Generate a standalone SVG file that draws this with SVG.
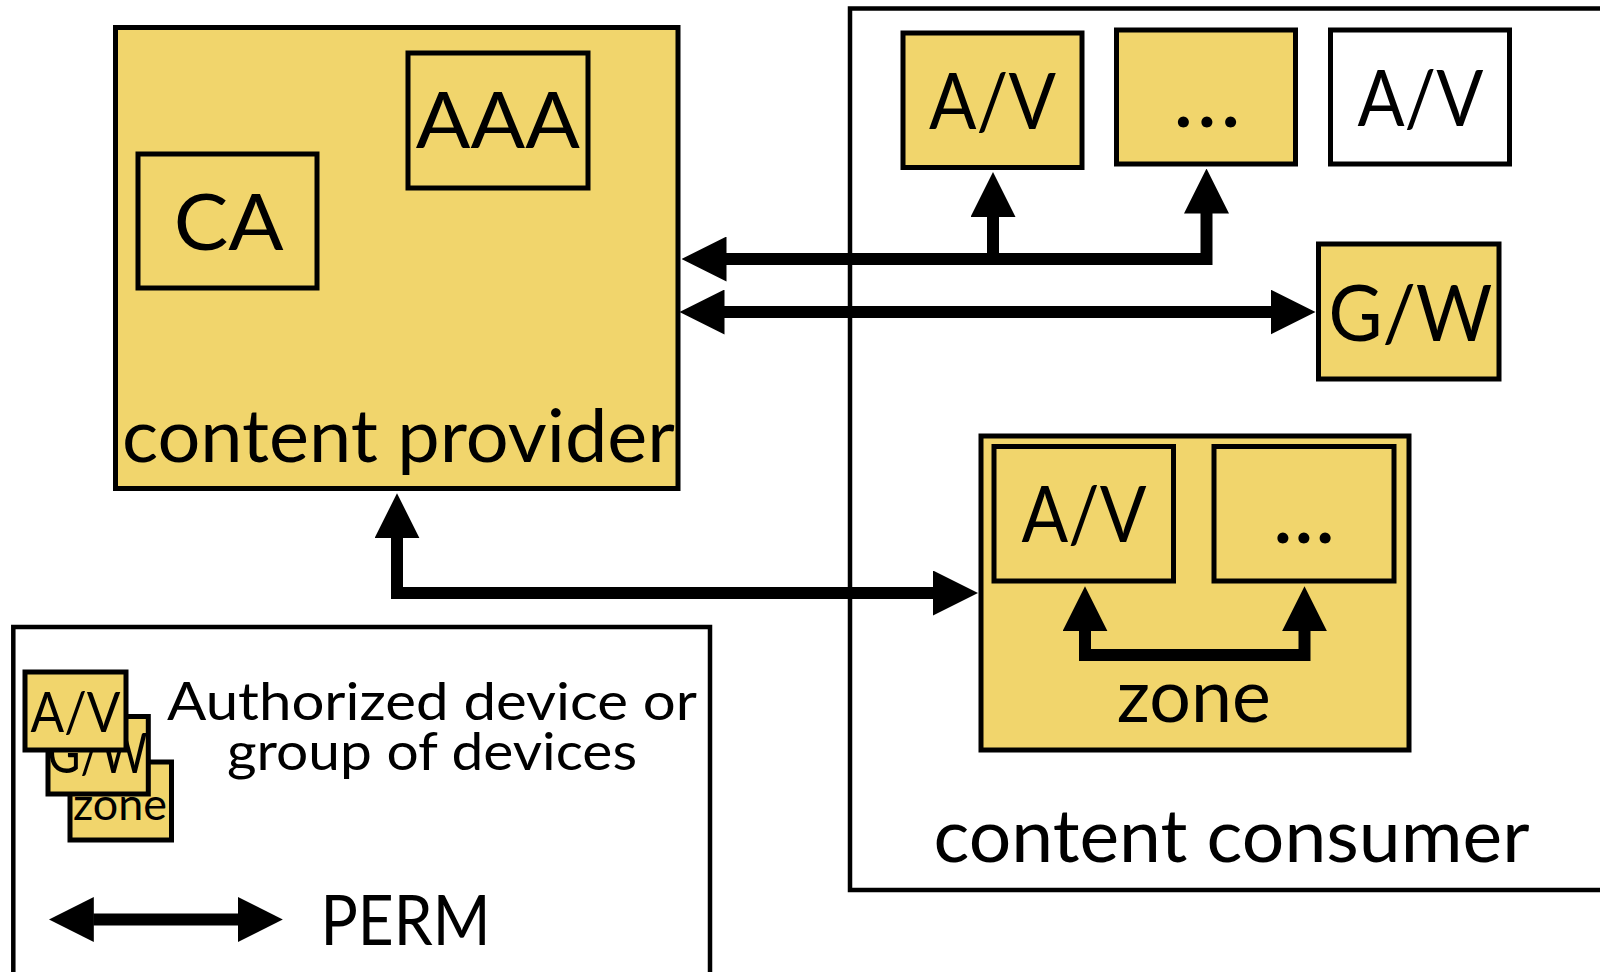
<svg xmlns="http://www.w3.org/2000/svg" width="1600" height="972" viewBox="0 0 1600 972">
<style>
.box{fill:#F1D56C;stroke:#000;stroke-width:5}
.wbox{fill:#fff;stroke:#000;stroke-width:5}
.frame{fill:none;stroke:#000;stroke-width:4.5}
.t{font-family:Lato,"Open Sans",sans-serif;fill:#000;text-anchor:middle}
.big{font-size:77px}
.dots{font-size:88px}
.lbl{font-size:74px}
.conn{fill:none;stroke:#000;stroke-width:12;stroke-linejoin:miter;marker-start:url(#ah);marker-end:url(#ah)}
.conn1{fill:none;stroke:#000;stroke-width:12;marker-end:url(#ah)}
</style>
<defs>
<marker id="ah" viewBox="0 0 45 45" markerWidth="45" markerHeight="45" markerUnits="userSpaceOnUse" refX="0.5" refY="22.5" orient="auto-start-reverse">
<path d="M0,0 L45,22.5 L0,45 Z" fill="#000"/>
</marker>
</defs>
<rect width="1600" height="972" fill="#fff"/>

<g id="content-consumer">
<rect class="frame" x="850" y="8.5" width="800" height="881.5" fill="#fff"/>
<text class="t lbl" x="1231.5" y="862.3" font-size="72" textLength="596" lengthAdjust="spacingAndGlyphs">content consumer</text>
</g>

<g id="content-provider">
<rect class="box" x="115.5" y="27.5" width="562.5" height="461"/>
<text class="t lbl" x="398.4" y="461.7" textLength="553" lengthAdjust="spacingAndGlyphs">content provider</text>
</g>

<g id="ca">
<rect class="box" x="138" y="154" width="179" height="134"/>
<text class="t big" x="228.7" y="250" textLength="110" lengthAdjust="spacingAndGlyphs">CA</text>
</g>

<g id="aaa">
<rect class="box" x="408" y="53" width="180" height="135"/>
<text class="t big" x="497.8" y="148.3" textLength="164" lengthAdjust="spacingAndGlyphs">AAA</text>
</g>

<g id="zone">
<rect class="box" x="981" y="436" width="428" height="314"/>
<text class="t lbl" x="1193.8" y="721.7" textLength="154" lengthAdjust="spacingAndGlyphs">zone</text>
</g>

<g id="connectors">
<path class="conn" d="M726,259 L1206.5,259 L1206.5,213"/>
<path class="conn1" d="M993,259 L993,216.5"/>
<path class="conn" d="M724,312 L1271,312"/>
<path class="conn" d="M397,537.7 L397,593 L933.5,593"/>
<path class="conn" d="M1085,630.7 L1085,655 L1304.5,655 L1304.5,630.7"/>
</g>

<g id="av1">
<rect class="box" x="903" y="33" width="179" height="134.5"/>
<text class="t big" x="992.6" y="129" textLength="127" lengthAdjust="spacingAndGlyphs">A/V</text>
</g>

<g id="dots1">
<rect class="box" x="1116.5" y="30" width="179" height="134"/>
<text class="t dots" x="1207" y="127" textLength="68" lengthAdjust="spacing">...</text>
</g>

<g id="av-unauth">
<rect class="wbox" x="1330.5" y="30" width="179" height="134"/>
<text class="t big" x="1420.4" y="126" textLength="126" lengthAdjust="spacingAndGlyphs">A/V</text>
</g>

<g id="gw">
<rect class="box" x="1318.5" y="244" width="180.5" height="135"/>
<text class="t big" x="1410.4" y="340.7" textLength="164" lengthAdjust="spacingAndGlyphs">G/W</text>
</g>

<g id="zone-av">
<rect class="box" x="994" y="446.5" width="179.5" height="134.5"/>
<text class="t big" x="1084" y="542.3" font-size="75" textLength="125" lengthAdjust="spacingAndGlyphs">A/V</text>
</g>

<g id="zone-dots">
<rect class="box" x="1214" y="446.5" width="180" height="134.5"/>
<text class="t dots" x="1304" y="543" textLength="63" lengthAdjust="spacing">...</text>
</g>

<g id="legend">
<rect class="frame" x="13.3" y="627" width="696.7" height="400"/>
<rect class="box" x="70" y="762" width="101.5" height="78"/>
<text class="t" x="120" y="820" font-size="44" textLength="94" lengthAdjust="spacingAndGlyphs">zone</text>
<rect class="box" x="48" y="716.5" width="100.3" height="77.5"/>
<text class="t" x="97.5" y="773.3" font-size="56" textLength="100" lengthAdjust="spacingAndGlyphs">G/W</text>
<rect class="box" x="25" y="672" width="101" height="78"/>
<text class="t" x="75.5" y="731.7" font-size="56" textLength="90" lengthAdjust="spacingAndGlyphs">A/V</text>
<text class="t" x="432" y="720" font-size="53" textLength="530" lengthAdjust="spacingAndGlyphs">Authorized device or</text>
<text class="t" x="432" y="770" font-size="53" textLength="410" lengthAdjust="spacingAndGlyphs">group of devices</text>
<path class="conn" d="M93.3,919.5 L238.3,919.5"/>
<text class="t" x="405.5" y="945" font-size="70" textLength="170" lengthAdjust="spacingAndGlyphs">PERM</text>
</g>
</svg>
